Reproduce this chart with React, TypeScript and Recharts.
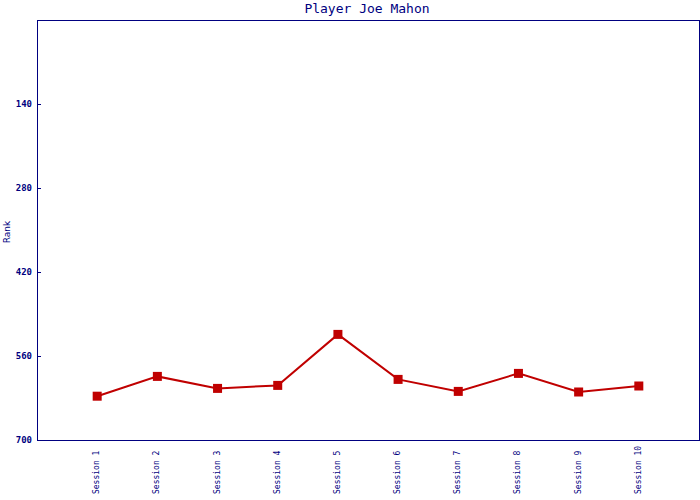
import React from "react";
import { LineChart, Line, XAxis, YAxis, ReferenceArea } from "recharts";

const sessions = [1, 2, 3, 4, 5, 6, 7, 8, 9, 10];
const ranks = [627, 594, 614, 609, 524, 599, 619, 589, 620, 610];
const rankTicks = [140, 280, 420, 560, 700];

const chartData = sessions.map((s, i) => ({ session: s, rank: ranks[i] }));

const NAVY = "#000080";
const RED = "#c00000";
const MONO = "'DejaVu Sans Mono', monospace";

function SessionTick(props: any) {
  const { x, payload } = props;
  const bx = x + 2;
  const by = 494;
  return (
    <text
      x={bx}
      y={by}
      transform={`rotate(-90, ${bx}, ${by})`}
      textAnchor="start"
      fill={NAVY}
      fontFamily={MONO}
      fontSize={8}
    >
      {`Session ${payload.value}`}
    </text>
  );
}

function RankTick(props: any) {
  const { x, y, payload } = props;
  return (
    <g>
      <line x1={x} y1={y} x2={x + 4} y2={y} stroke={NAVY} strokeWidth={1} shapeRendering="crispEdges" />
      <text
        x={x - 5}
        y={y + 3}
        textAnchor="end"
        fill={NAVY}
        fontFamily={MONO}
        fontWeight="bold"
        fontSize={9}
      >
        {payload.value}
      </text>
    </g>
  );
}

function SquareDot(props: any) {
  const { cx, cy } = props;
  if (cx == null || cy == null) return null;
  return <rect x={cx - 4.5} y={cy - 4.5} width={9} height={9} fill={RED} />;
}

export default function App() {
  return (
    <div style={{ position: "absolute", left: 0, top: 0, width: 700, height: 500, background: "#fff" }}>
      <svg width={700} height={500} style={{ position: "absolute", left: 0, top: 0, pointerEvents: "none" }}>
        <text x={367} y={13} textAnchor="middle" fill={NAVY} fontFamily={MONO} fontSize={13}>
          Player Joe Mahon
        </text>
        <text
          x={10}
          y={232}
          transform="rotate(-90, 10, 232)"
          textAnchor="middle"
          fill={NAVY}
          fontFamily="'DejaVu Sans', sans-serif"
          fontSize={9}
        >
          Rank
        </text>
      </svg>
      <LineChart
        width={700}
        height={500}
        data={chartData}
        margin={{ top: 20, right: 1, bottom: 0, left: 0 }}
      >
        <XAxis
          dataKey="session"
          type="number"
          domain={[0, 11]}
          ticks={sessions}
          interval={0}
          height={60}
          axisLine={false}
          tickLine={false}
          tickSize={0}
          tickMargin={0}
          tick={<SessionTick />}
        />
        <YAxis
          dataKey="rank"
          type="number"
          domain={[0, 700]}
          reversed
          ticks={rankTicks}
          interval={0}
          width={37}
          axisLine={false}
          tickLine={false}
          tickSize={0}
          tickMargin={0}
          tick={<RankTick />}
        />
        <ReferenceArea
          x1={0}
          x2={11}
          y1={0}
          y2={700}
          fill="none"
          stroke={NAVY}
          strokeWidth={1}
          fillOpacity={0}
          shapeRendering="crispEdges"
        />
        <Line
          type="linear"
          dataKey="rank"
          stroke={RED}
          strokeWidth={2}
          dot={<SquareDot />}
          activeDot={false}
          isAnimationActive={false}
        />
      </LineChart>
    </div>
  );
}
